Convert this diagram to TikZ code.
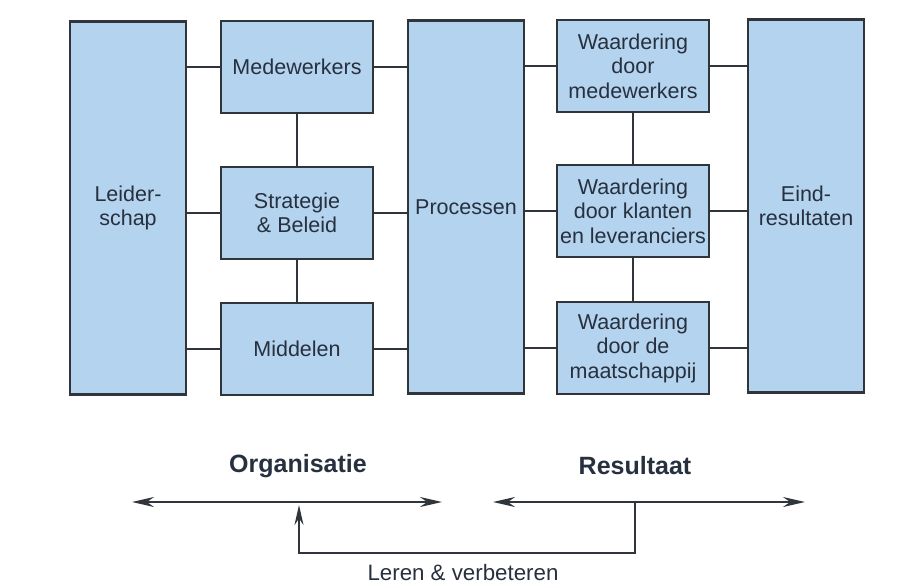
\documentclass[tikz,border=0pt]{standalone}
\usepackage{fontspec}
\setmainfont{Liberation Sans}
\usetikzlibrary{arrows.meta,positioning}
\definecolor{boxblue}{HTML}{B4D3EE}
\definecolor{edge}{HTML}{30353C}
\definecolor{textmain}{HTML}{27303E}

\begin{document}
\begin{tikzpicture}[x=1pt, y=-1pt,
  box/.style={rectangle, fill=boxblue, draw=edge, line width=2.2pt, align=center,
    text=textmain, inner sep=2pt, font=\fontsize{21.5}{24.5}\selectfont},
  boxsmall/.style={box, minimum width=152pt, minimum height=92pt},
  boxtall/.style={box, minimum width=116pt, minimum height=373pt},
  link/.style={edge, line width=2.8pt},
  axis/.style={{Stealth[length=22pt, width=10pt]}-{Stealth[length=22pt, width=10pt]}, edge, line width=2.2pt},
  heading/.style={text=textmain, font=\bfseries\fontsize{25}{30}\selectfont},
]

\useasboundingbox (0,0) rectangle (923,584);

% Organisation columns
\node[boxtall] at (128,208) (lead) {Leider-\\schap};
\node[boxsmall] at (297,67) (medew) {Medewerkers};
\node[boxsmall] at (297,213) (strat) {Strategie\\\& Beleid};
\node[boxsmall] at (297,349) (midd) {Middelen};
\node[boxtall] at (466,207) (proc) {Processen};

% Result columns
\node[boxsmall] at (633,66) (wmedew) {Waardering\\door\\medewerkers};
\node[boxsmall] at (633,211) (wklant) {Waardering\\door klanten\\en leveranciers};
\node[boxsmall] at (633,348) (wmaat) {Waardering\\door de\\maatschappij};
\node[boxtall] at (806,206) (eind) {Eind-\\resultaten};

% Links between the columns
\foreach \b in {medew, strat, midd} {
  \draw[link] (\b.west) -- (\b.west -| lead.east);
  \draw[link] (\b.east) -- (\b.east -| proc.west);
}
\foreach \b in {wmedew, wklant, wmaat} {
  \draw[link] (\b.west) -- (\b.west -| proc.east);
  \draw[link] (\b.east) -- (\b.east -| eind.west);
}
\draw[link] (medew.south) -- (strat.north);
\draw[link] (strat.south) -- (midd.north);
\draw[link] (wmedew.south) -- (wklant.north);
\draw[link] (wklant.south) -- (wmaat.north);

% Headings and axes
\node[heading] at (298,466) (org) {Organisatie};
\node[heading] at (635,466) (res) {Resultaat};

\coordinate (orgL) at (132,502);
\coordinate (orgR) at (442,502);
\coordinate (resL) at (493,502);
\coordinate (resR) at (805,502);
\draw[axis] (orgL) -- (orgR);
\draw[axis] (resL) -- (resR);

% Feedback loop
\coordinate (fbout) at (635,502);
\coordinate (fbin) at (299,502);
\draw[edge, line width=2.2pt, -{Stealth[length=20pt, width=9pt]}, shorten >=3pt]
  (fbout) -- ++(0,51) -| (fbin);
\node[text=textmain, font=\fontsize{22.3}{26}\selectfont] at (463,573) (learn) {Leren \& verbeteren};

\end{tikzpicture}
\end{document}
